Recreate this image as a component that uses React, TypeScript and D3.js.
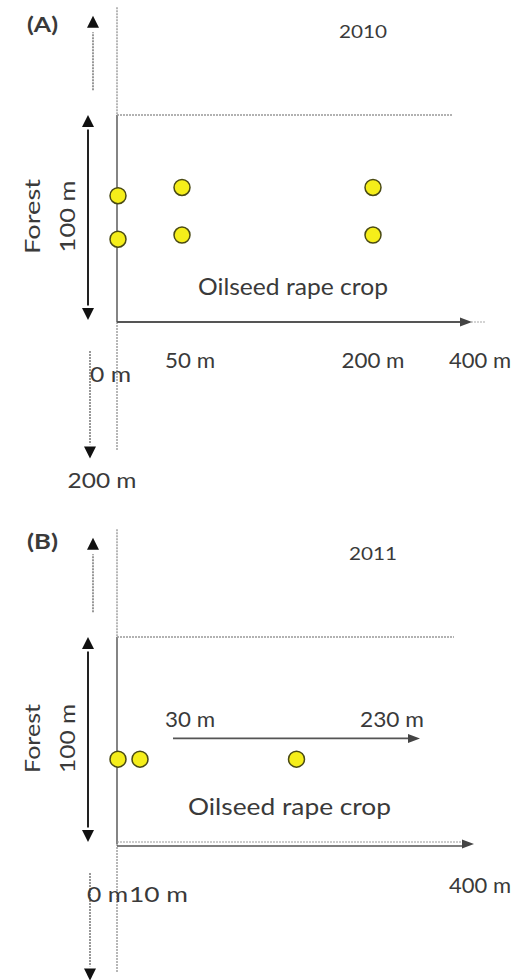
import { useMemo } from 'react';
import * as d3 from 'd3';

// panel captions
const panelLabels = ['(A)', '(B)'];
const years = ['2010', '2011'];

// distances from the forest edge (m) that carry a tick label
const distA = [0, 50, 200, 400];
const distB = [0, 10, 30, 230, 400];
const distLabelsA = ['0 m', '50 m', '200 m', '400 m'];
const distLabelsB = ['0 m', '10 m', '30 m', '230 m', '400 m'];

// traps: distance into the crop (m) and position along the forest edge (m)
const trapDistA = [0, 0, 50, 50, 200, 200];
const trapEdgeA = [61, 40, 65, 42, 65, 42];
const trapDistB = [0, 10, 130];
const trapEdgeB = [41, 41, 41];

// transect of moving traps in 2011
const transectB = [30, 230];

const W = 515;
const H = 980;
const FONT = 'Lato, "Open Sans", sans-serif';
const INK = '#3a3a3a';

function tri(x: number, y: number, dir: 'up' | 'down' | 'right', s = 7): string {
  if (dir === 'up') return `M${x},${y}L${x - s},${y + 2 * s}L${x + s},${y + 2 * s}Z`;
  if (dir === 'down') return `M${x},${y}L${x - s},${y - 2 * s}L${x + s},${y - 2 * s}Z`;
  return `M${x},${y}L${x - 2 * s},${y - s * 0.75}L${x - 2 * s},${y + s * 0.75}Z`;
}

type LabelProps = {
  x: number;
  y: number;
  text: string;
  size?: number;
  anchor?: 'start' | 'middle' | 'end';
  len?: number;
  bold?: boolean;
  rotate?: boolean;
};

function Label({ x, y, text, size = 22, anchor = 'start', len, bold, rotate }: LabelProps): React.ReactNode {
  return (
    <text
      x={rotate ? 0 : x}
      y={rotate ? 0 : y}
      transform={rotate ? `translate(${x},${y}) rotate(-90)` : undefined}
      fontFamily={FONT}
      fontSize={size}
      fontWeight={bold ? 700 : 400}
      fill={INK}
      textAnchor={anchor}
      textLength={len}
      lengthAdjust={len ? 'spacingAndGlyphs' : undefined}
    >
      {text}
    </text>
  );
}

type PanelProps = {
  label: string;
  year: string;
  dist: number[];
  distLabels: string[];
  xRange: number[];
  trapDist: number[];
  trapEdge: number[];
  yRange: [number, number];
  transect?: number[];
};

function Panel(p: PanelProps): React.ReactNode {
  const x = useMemo(() => d3.scaleLinear().domain(p.dist).range(p.xRange), [p.dist, p.xRange]);
  // metres along forest edge, 0 = crop axis, 100 = top of field
  const y = useMemo(() => d3.scaleLinear().domain([0, 100]).range(p.yRange), [p.yRange]);
  const x0 = x(0);
  const xEnd = x(400);
  const dash = '2,1';
  const isB = !!p.transect;

  return (
    <g>
      <Label x={27} y={y(isB ? 142.5 : 140)} text={p.label} size={21} bold len={31} />
      <Label x={x(200) - 10} y={y(137)} text={p.year} size={18} anchor="middle" len={48} />

      {/* forest edge */}
      <line x1={x0} x2={x0} y1={y(152)} y2={y(100)} stroke="#888" strokeWidth={1.2} strokeDasharray={dash} />
      <line x1={x0} x2={x0} y1={y(100)} y2={y(0)} stroke="#666" strokeWidth={1.6} />
      <line x1={x0} x2={x0} y1={y(0)} y2={y(-62)} stroke="#888" strokeWidth={1.2} strokeDasharray={dash} />

      {/* field top boundary */}
      <line x1={x0} x2={xEnd - 20} y1={y(100)} y2={y(100)} stroke="#999" strokeWidth={1.4} strokeDasharray={dash} />

      {/* crop axis */}
      {isB ? (
        <>
          <line x1={x0} x2={xEnd - 8} y1={y(0) - 2} y2={y(0) - 2} stroke="#999" strokeWidth={1.2} strokeDasharray={dash} />
          <line x1={x0} x2={xEnd - 8} y1={y(0) + 2} y2={y(0) + 2} stroke="#555" strokeWidth={1.6} />
        </>
      ) : (
        <>
          <line x1={x0} x2={xEnd + 14} y1={y(0)} y2={y(0)} stroke="#aaa" strokeWidth={1.2} strokeDasharray={dash} />
          <line x1={x0} x2={xEnd - 8} y1={y(0)} y2={y(0)} stroke="#555" strokeWidth={2} />
        </>
      )}
      <path d={tri(xEnd, y(0), 'right', 6)} fill="#444" />

      {/* side arrows */}
      <line x1={93} x2={93} y1={y(112)} y2={y(140)} stroke="#555" strokeWidth={1.2} strokeDasharray={dash} />
      <path d={tri(93, y(148), 'up', 6)} fill="#111" />
      <line x1={88} x2={88} y1={y(93)} y2={y(8)} stroke="#222" strokeWidth={2} />
      <path d={tri(88, y(100), 'up', 6)} fill="#111" />
      <path d={tri(88, y(1), 'down', 6)} fill="#111" />
      <line x1={90} x2={90} y1={y(-14)} y2={y(-59)} stroke="#555" strokeWidth={1.2} strokeDasharray={dash} />
      <path d={tri(90, y(-66), 'down', 6)} fill="#111" />

      <Label x={40} y={y(51)} text="Forest" anchor="middle" rotate len={isB ? 69 : 75} />
      <Label x={75} y={y(51)} text="100 m" anchor="middle" rotate len={isB ? 69 : 72} />

      <Label x={isB ? 188 : 198} y={y(isB ? 14 : 13)} text="Oilseed rape crop" len={isB ? 203 : 190} size={23} />

      {/* distance labels */}
      {p.dist.map((d, i) => {
        const t = p.distLabels[i];
        if (d === 0) return <Label key={d} x={isB ? 87 : 90} y={y(isB ? -28 : -29)} text={t} len={41} />;
        if (d === 10) return <Label key={d} x={129} y={y(-28)} text={t} len={59} />;
        if (d === 400) return <Label key={d} x={449} y={y(isB ? -23.7 : -22)} text={t} />;
        if (isB) return null;
        return <Label key={d} x={x(d) + (d === 50 ? 8 : 0)} y={y(-22)} text={t} anchor="middle" len={d === 50 ? 50 : 63} />;
      })}
      {!isB && <Label x={102} y={y(-80)} text="200 m" anchor="middle" len={69} />}

      {/* transect of moving traps */}
      {p.transect && (
        <g>
          <line x1={x(p.transect[0])} x2={x(p.transect[1]) - 12} y1={y(51)} y2={y(51)} stroke="#555" strokeWidth={1.8} />
          <path d={tri(x(p.transect[1]), y(51), 'right', 6)} fill="#444" />
          <Label x={x(p.transect[0]) - 8} y={y(56.5)} text={p.distLabels[p.dist.indexOf(p.transect[0])]} len={50} />
          <Label x={x(p.transect[1]) + 4} y={y(56.5)} text={p.distLabels[p.dist.indexOf(p.transect[1])]} anchor="end" len={64} />
        </g>
      )}

      {/* traps */}
      {p.trapDist.map((d, i) => (
        <circle key={i} cx={x(d) + (d === 0 ? 1 : 0)} cy={y(p.trapEdge[i])} r={8} fill="#f5ee1a" stroke="#4a4a14" strokeWidth={1.5} />
      ))}
    </g>
  );
}

export default function App(): React.ReactNode {
  return (
    <svg width={W} height={H} viewBox={`0 0 ${W} ${H}`} style={{ position: 'absolute', left: 0, top: 0, background: '#fff' }}>
      <Panel
        label={panelLabels[0]}
        year={years[0]}
        dist={distA}
        distLabels={distLabelsA}
        xRange={[117, 182, 373, 472]}
        trapDist={trapDistA}
        trapEdge={trapEdgeA}
        yRange={[322, 115]}
      />
      <Panel
        label={panelLabels[1]}
        year={years[1]}
        dist={distB}
        distLabels={distLabelsB}
        xRange={[117, 140, 173, 420, 474]}
        trapDist={trapDistB}
        trapEdge={trapEdgeB}
        yRange={[844, 637]}
        transect={transectB}
      />
    </svg>
  );
}
